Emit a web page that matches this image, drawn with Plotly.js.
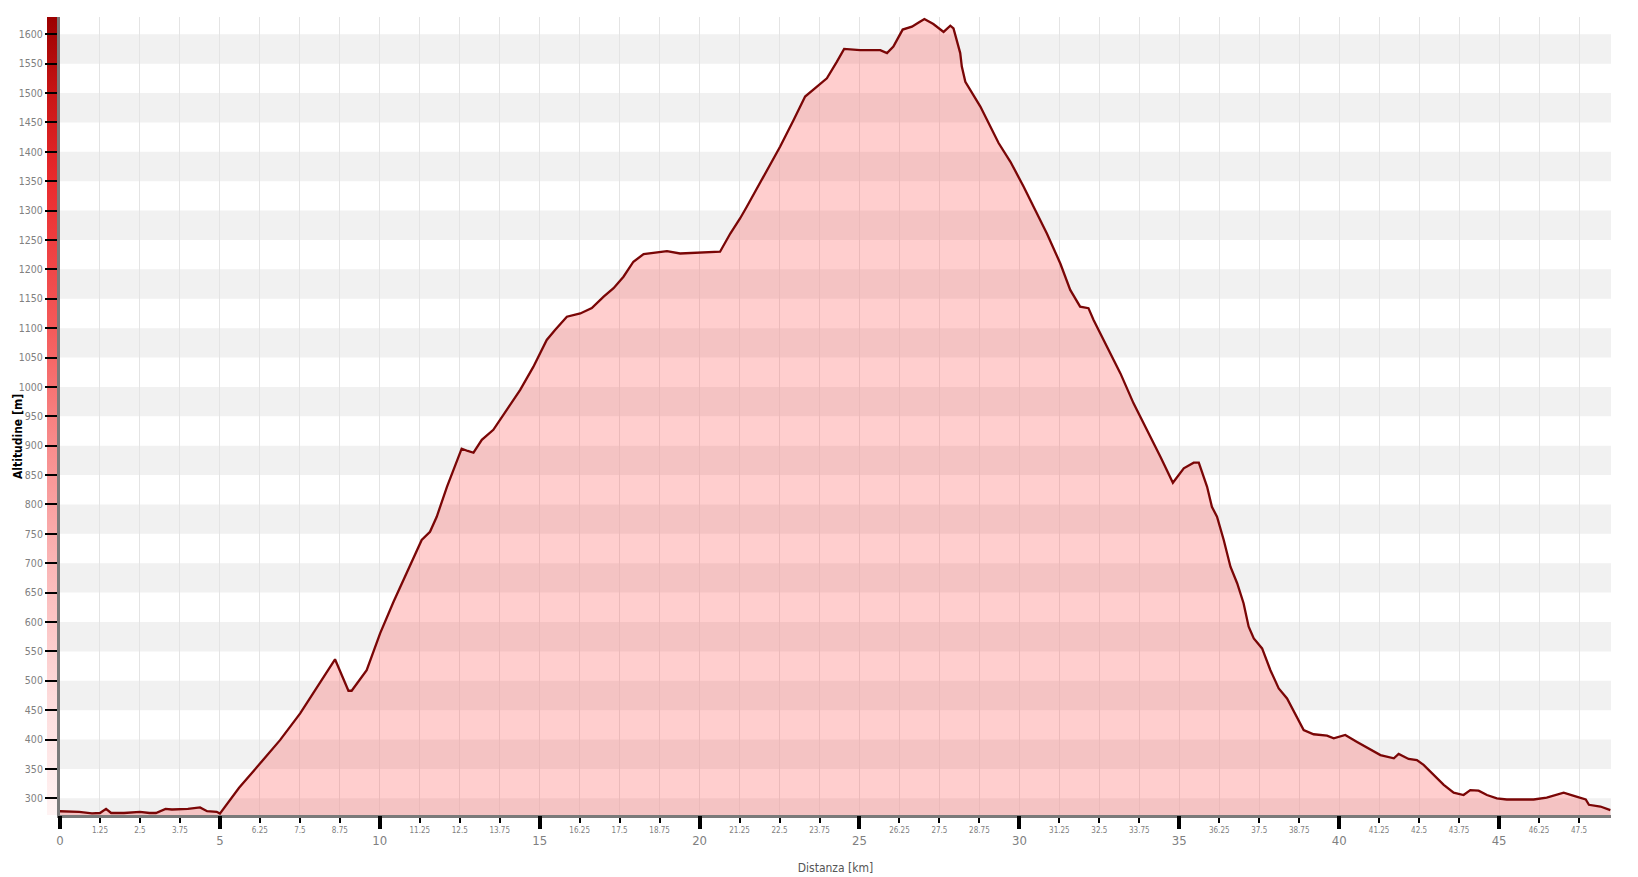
<!DOCTYPE html>
<html>
<head>
<meta charset="utf-8">
<script src="https://cdn.plot.ly/plotly-3.0.1.min.js"></script>
<style>
  html, body { margin: 0; padding: 0; background: #ffffff; }
  #chart { width: 1638px; height: 877px; }
</style>
</head>
<body>
<div id="chart"></div>
<script>
// Distance along the route [km]
const distanceKm = [
  0, 0.3, 0.6, 1.0, 1.25, 1.44, 1.6, 2.0, 2.5, 2.8, 3.0, 3.3, 3.5, 4.0, 4.38, 4.6, 4.9, 5.0,
  5.6, 6.26, 6.88, 7.51, 8.13, 8.6, 9.02, 9.12, 9.59, 10.01, 10.43, 10.84, 11.31, 11.57, 11.78,
  12.1, 12.41, 12.56, 12.75, 12.93, 13.19, 13.55, 13.97, 14.39, 14.8, 15.22, 15.48, 15.85,
  16.27, 16.63, 17.0, 17.31, 17.62, 17.93, 18.25, 18.98, 19.39, 20.23, 20.64, 20.96, 21.27,
  21.48, 22.0, 22.52, 22.94, 23.3, 23.67, 23.98, 24.29, 24.52, 25.02, 25.65, 25.86, 26.06,
  26.35, 26.64, 26.85, 27.03, 27.31, 27.63, 27.84, 27.94, 28.15, 28.2, 28.31, 28.78, 29.35,
  29.72, 30.13, 30.86, 31.28, 31.59, 31.9, 32.16, 32.32, 32.74, 33.16, 33.57, 33.99, 34.41,
  34.8, 35.14, 35.45, 35.61, 35.87, 36.02, 36.18, 36.39, 36.6, 36.81, 37.01, 37.17, 37.33,
  37.59, 37.85, 38.11, 38.37, 38.63, 38.89, 39.2, 39.62, 39.83, 40.19, 40.56, 40.98, 41.29,
  41.71, 41.86, 42.17, 42.43, 42.64, 42.95, 43.27, 43.58, 43.89, 44.1, 44.36, 44.62, 44.93,
  45.24, 46.08, 46.49, 46.82, 47.02, 47.34, 47.71, 47.81, 48.17, 48.48
];
// Altitude [m]
const altitudeM = [
  278, 278, 277, 274.5, 275, 282, 275, 275, 277, 275, 275, 282, 281, 282, 284.5, 278, 277, 274,
  318, 359.5, 399, 444.6, 495.7, 536.5, 483, 483, 518, 580.7, 634.5, 682.8, 739.5, 753.6, 779,
  830, 875.6, 895, 891, 888, 910, 927, 961, 995, 1034, 1080, 1097, 1119.5,
  1125, 1134, 1153.5, 1168, 1187.5, 1213, 1226, 1231, 1227, 1229, 1230, 1261, 1287,
  1307, 1358, 1409, 1454, 1494, 1511, 1525, 1553, 1575, 1573, 1573, 1568, 1579,
  1608, 1613, 1620, 1626, 1617.5, 1604, 1614.6, 1610, 1568, 1545, 1519, 1477, 1415,
  1383, 1341, 1261, 1210, 1165, 1136.5, 1134, 1114, 1068, 1023, 972, 927, 881,
  837, 861.5, 871, 871, 830, 796, 779, 739.5, 694, 666, 632, 592, 572,
  555, 518, 487, 470, 442, 416, 409, 406.6, 402, 407.7, 396, 383, 373.6,
  368, 375.4, 367, 365, 357, 340, 323, 309.5, 305.6, 314, 313, 305.6, 300,
  298, 298, 301, 307, 309.5, 304, 298, 289, 286, 280
];

// Axis ticks
const gridTickVals = [0, 1.25, 2.5, 3.75, 5, 6.25, 7.5, 8.75, 10, 11.25, 12.5, 13.75, 15, 16.25, 17.5, 18.75,
  20, 21.25, 22.5, 23.75, 25, 26.25, 27.5, 28.75, 30, 31.25, 32.5, 33.75, 35, 36.25, 37.5, 38.75,
  40, 41.25, 42.5, 43.75, 45, 46.25, 47.5];
const minorTickText = ['', '1.25', '2.5', '3.75', '', '6.25', '7.5', '8.75', '', '11.25', '12.5', '13.75', '', '16.25', '17.5', '18.75',
  '', '21.25', '22.5', '23.75', '', '26.25', '27.5', '28.75', '', '31.25', '32.5', '33.75', '', '36.25', '37.5', '38.75',
  '', '41.25', '42.5', '43.75', '', '46.25', '47.5'];
const majorTickVals = [0, 5, 10, 15, 20, 25, 30, 35, 40, 45];
const majorTickText = ['0', '5', '10', '15', '20', '25', '30', '35', '40', '45'];
const yTickVals = [300, 350, 400, 450, 500, 550, 600, 650, 700, 750, 800, 850, 900, 950, 1000, 1050,
  1100, 1150, 1200, 1250, 1300, 1350, 1400, 1450, 1500, 1550, 1600];

const xRange = [0, 48.5];
const yRange = [271.6, 1629.4];

const FONT = "'DejaVu Sans Condensed', 'DejaVu Sans', sans-serif";

// horizontal alternating bands
const shapes = [];
for (let y0 = 250; y0 < 1650; y0 += 100) {
  shapes.push({
    type: 'rect', xref: 'paper', yref: 'y', x0: 0, x1: 1, y0: y0, y1: y0 + 50,
    fillcolor: '#f1f1f1', line: { width: 0 }, layer: 'below'
  });
}

// altitude colour bar (gradient) next to the y axis
const gradSvg =
  "<svg xmlns='http://www.w3.org/2000/svg' width='10' height='200' preserveAspectRatio='none'>" +
  "<defs><linearGradient id='g' x1='0' y1='0' x2='0' y2='1'>" +
  "<stop offset='0' stop-color='#9b0000'/>" +
  "<stop offset='0.095' stop-color='#c81515'/>" +
  "<stop offset='0.205' stop-color='#e92a2d'/>" +
  "<stop offset='0.39' stop-color='#f45a5a'/>" +
  "<stop offset='0.537' stop-color='#f78c8c'/>" +
  "<stop offset='0.684' stop-color='#fab5b5'/>" +
  "<stop offset='0.868' stop-color='#fddede'/>" +
  "<stop offset='1' stop-color='#fff3f3'/>" +
  "</linearGradient></defs><rect width='10' height='200' fill='url(#g)'/></svg>";
const gradUri = 'data:image/svg+xml;base64,' + btoa(gradSvg);

const traces = [
  {
    // filled area (under the profile line)
    type: 'scatter', mode: 'none', xaxis: 'x', yaxis: 'y',
    x: distanceKm, y: altitudeM,
    fill: 'tozeroy', fillcolor: 'rgba(255,60,60,0.25)',
    hoverinfo: 'skip', showlegend: false
  },
  {
    // profile line
    type: 'scatter', mode: 'lines', xaxis: 'x2', yaxis: 'y',
    x: distanceKm, y: altitudeM,
    line: { color: '#7a0606', width: 2.3 },
    hoverinfo: 'x+y', showlegend: false
  }
];

const layout = {
  width: 1638, height: 877,
  margin: { l: 60, r: 27, t: 17, b: 62 },
  paper_bgcolor: '#ffffff', plot_bgcolor: '#ffffff',
  font: { family: FONT, color: '#777' },
  showlegend: false,
  xaxis: {
    range: xRange, autorange: false,
    tickmode: 'array', tickvals: gridTickVals, ticktext: minorTickText,
    ticks: 'outside', ticklen: 5, tickwidth: 2, tickcolor: '#000',
    tickfont: { size: 8, color: '#808080', family: FONT },
    showgrid: true, gridcolor: '#e4e4e4', gridwidth: 1,
    showline: true, linecolor: '#7a7a7a', linewidth: 3,
    zeroline: false, automargin: false,
    title: { text: 'Distanza [km]', font: { size: 12, color: '#555', family: FONT }, standoff: 31 }
  },
  xaxis2: {
    overlaying: 'x', anchor: 'y', side: 'bottom',
    range: xRange, autorange: false,
    tickmode: 'array', tickvals: majorTickVals, ticktext: majorTickText,
    ticks: 'outside', ticklen: 13, tickwidth: 4, tickcolor: '#000',
    tickfont: { size: 13, color: '#808080', family: FONT },
    showgrid: false, showline: false, zeroline: false, automargin: false
  },
  yaxis: {
    range: yRange, autorange: false,
    tickmode: 'array', tickvals: yTickVals,
    ticks: 'outside', ticklen: 12, tickwidth: 2, tickcolor: '#000',
    tickfont: { size: 10.5, color: '#808080', family: FONT },
    showgrid: false, showline: true, linecolor: '#7a7a7a', linewidth: 3,
    zeroline: false, automargin: false
  },
  annotations: [{
    text: 'Altitudine [m]', textangle: -90,
    xref: 'paper', yref: 'paper', x: 0, y: 0.5, xanchor: 'center', yanchor: 'middle',
    xshift: -42, yshift: -21, showarrow: false,
    font: { size: 12, color: '#000', family: FONT, weight: 'bold' }
  }],
  shapes: shapes,
  images: [{
    source: gradUri, xref: 'paper', yref: 'paper',
    x: -0.0084, y: 1, sizex: 0.0071, sizey: 1,
    xanchor: 'left', yanchor: 'top', sizing: 'stretch', layer: 'below'
  }]
};

Plotly.newPlot('chart', traces, layout, { displayModeBar: false, staticPlot: true });
</script>
</body>
</html>
